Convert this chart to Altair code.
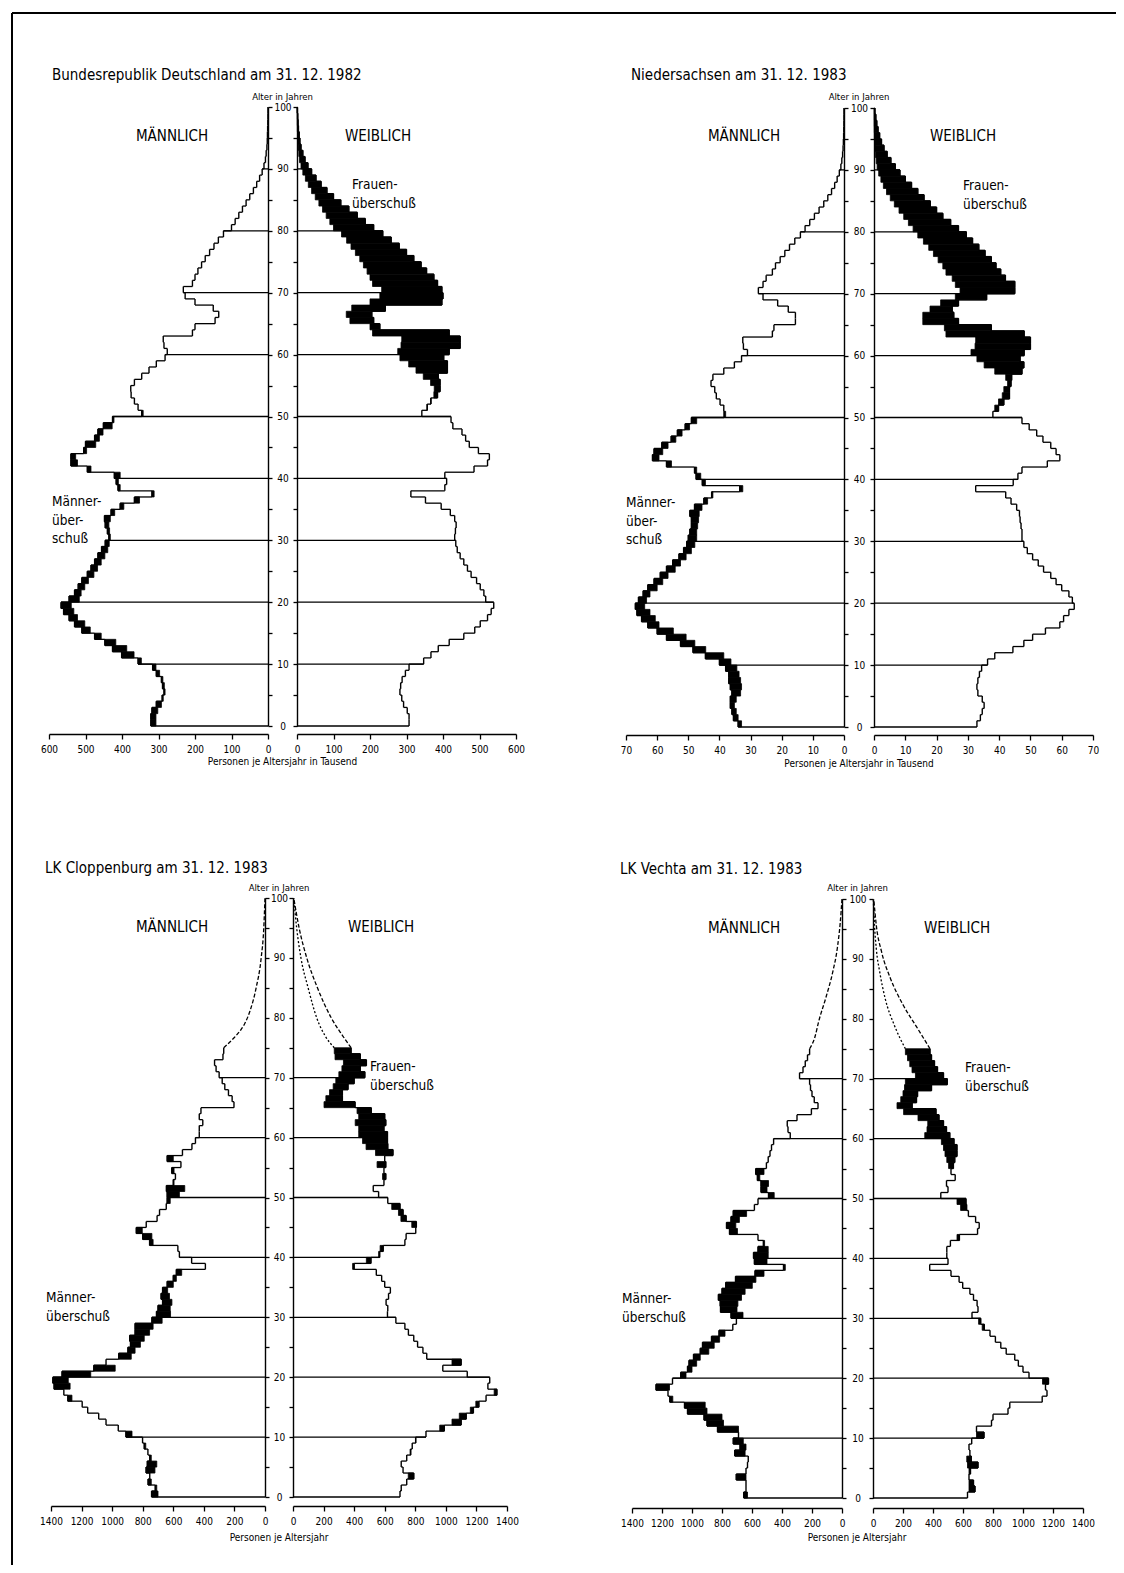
import altair as alt
import pandas as pd

FONT = "DejaVu Sans Condensed, DejaVu Sans, sans-serif"
W, H = 1108, 1557

# ---------------- data ----------------
brd_m = [321, 321, 318, 306, 290, 285, 289, 292, 306, 316,
         356, 401, 426, 447, 475, 510, 530, 545, 560, 567,
         545, 530, 520, 510, 495, 485, 475, 466, 456, 446,
         436, 440, 446, 448, 430, 405, 366, 318, 411, 416,
         421, 495, 540, 540, 505, 500, 475, 466, 451, 426,
         346, 356, 366, 375, 376, 366, 346, 326, 306, 282,
         276, 285, 287, 207, 200, 145, 135, 150, 200, 227,
         232, 207, 200, 192, 182, 172, 160, 148, 136, 122,
         100, 90, 80, 70, 60, 50, 40, 31, 23, 16,
         11, 7, 5, 3, 2, 1.5, 1, 0.6, 0.3, 0.2]
brd_f = [307, 307, 302, 292, 287, 282, 284, 288, 297, 307,
         347, 367, 387, 417, 457, 487, 502, 522, 532, 539,
         517, 512, 502, 492, 477, 467, 457, 447, 439, 435,
         432, 434, 436, 432, 420, 395, 352, 312, 405, 410,
         405, 485, 522, 527, 497, 472, 462, 452, 427, 422,
         342, 357, 367, 385, 392, 392, 387, 412, 412, 402,
         417, 447, 447, 417, 227, 210, 205, 242, 397, 400,
         397, 385, 375, 355, 340, 320, 300, 280, 258, 235,
         210, 187, 165, 142, 120, 100, 82, 66, 52, 40,
         30, 22, 16, 11, 8, 6, 4, 3, 2, 1]

nds_m = [34, 35.5, 36, 36.5, 36.5, 36, 36.5, 37, 37, 38,
         40, 44.5, 48.5, 52.5, 57, 60, 63, 65, 66.5, 67,
         66, 64.5, 63, 61, 59, 57, 55, 53, 51.5, 50.5,
         50, 49.5, 49, 49, 49.5, 48, 45, 42.5, 33.5, 45.5,
         47.5, 48, 57, 61.5, 61, 58.5, 55.5, 53.5, 51, 49,
         38.5, 38.6, 39.8, 41, 41.5, 42.7, 42.1, 38.6, 35.2, 32.9,
         31, 32.3, 32.5, 23, 22.5, 15.6, 15.6, 17.9, 21.3, 26,
         27.5, 26, 25, 23, 22, 20.5, 19, 17.5, 15.8, 14,
         12.5, 11, 9.5, 8, 6.5, 5.2, 4, 3, 2.2, 1.5,
         1, 0.7, 0.45, 0.3, 0.2, 0.12, 0.08, 0.05, 0.03, 0.02]
nds_f = [32.9, 34, 34.6, 35.2, 34.6, 33.2, 32.9, 33.2, 33.7, 34.4,
         36.3, 38.6, 44.4, 47.9, 50.7, 54.8, 59.4, 60.6, 62.3, 64,
         63.4, 62.3, 60, 58.2, 56.5, 54.2, 52.5, 50.7, 49, 47.9,
         47.3, 47.3, 47, 46.7, 46.5, 45.6, 43.8, 42.1, 32.5, 44.5,
         46, 47.3, 55.4, 59.4, 58.2, 56.5, 54, 52, 49.6, 47.3,
         38, 39.8, 41.5, 43.3, 43.3, 43.8, 44, 47.3, 47.9, 46.7,
         48, 50, 50, 48, 37.5, 27, 25.5, 25, 27, 36,
         45, 45, 42, 40.5, 39, 37.5, 35.5, 33.5, 31.5, 29.5,
         27, 24.5, 22, 20, 18, 16, 14, 12, 10, 8.3,
         6.8, 5.4, 4.2, 3.2, 2.4, 1.8, 1.3, 0.9, 0.6, 0.3]

clp_m = [742, 718, 765, 754, 778, 770, 754, 766, 790, 801,
         910, 960, 1040, 1088, 1160, 1196, 1290, 1316, 1380, 1388,
         1328, 1120, 1040, 957, 897, 880, 885, 850, 850, 740,
         710, 700, 670, 680, 670, 640, 600, 580, 390, 480,
         560, 570, 755, 800, 842, 777, 706, 690, 646, 640,
         640, 645, 600, 586, 610, 550, 640, 540, 478, 455,
         430, 430, 407, 430, 419, 203, 215, 239, 263, 280,
         300, 320, 330, 275, 270]
clp_f = [700, 708, 744, 790, 720, 708, 744, 770, 780, 803,
         870, 990, 1100, 1133, 1180, 1216, 1263, 1334, 1275, 1287,
         1140, 980, 1100, 875, 850, 815, 790, 755, 732, 673,
         618, 620, 609, 625, 637, 600, 580, 545, 400, 510,
         567, 590, 732, 740, 803, 807, 740, 720, 700, 620,
         560, 525, 595, 607, 595, 607, 600, 654, 620, 618,
         618, 595, 607, 600, 512, 406, 323, 323, 360, 400,
         470, 440, 480, 440, 380]
clp_tail_m_age = [75, 76, 77, 78, 79, 81, 85, 90, 95, 100]
clp_tail_m = [270, 228, 190, 158, 133, 100, 58, 25, 8, 0]
clp_tail_f_age = [75, 77, 80, 85, 90, 95, 100]
clp_tail_f = [380, 325, 250, 160, 90, 40, 5]
clp_tail_fi_age = [75, 77, 80, 85, 90, 95, 100]
clp_tail_fi = [270, 210, 155, 99, 52, 24, 5]

vec_m = [655, 640, 640, 705, 640, 630, 625, 715, 680, 725,
         690, 830, 900, 920, 1030, 1050, 1148, 1160, 1240, 1130,
         1075, 1030, 1020, 990, 945, 930, 870, 820, 728, 704,
         740, 810, 812, 824, 800, 775, 710, 580, 390, 584,
         590, 560, 524, 560, 750, 770, 740, 725, 584, 560,
         490, 540, 540, 564, 575, 504, 492, 480, 470, 456,
         345, 360, 365, 300, 204, 160, 185, 200, 210, 216,
         283, 260, 245, 230, 216]
vec_f = [630, 680, 670, 640, 650, 700, 655, 646, 640, 658,
         740, 690, 790, 800, 900, 912, 1128, 1160, 1150, 1170,
         1040, 1000, 969, 945, 888, 852, 816, 780, 742, 718,
         660, 700, 694, 670, 646, 598, 574, 520, 378, 500,
         492, 492, 516, 576, 697, 708, 684, 636, 624, 620,
         452, 500, 490, 548, 520, 536, 545, 560, 560, 540,
         512, 490, 470, 440, 420, 261, 290, 297, 390, 495,
         470, 430, 410, 390, 380]
vec_tail_m_age = [75, 77, 79.5, 83.5, 88, 92, 96, 100]
vec_tail_m = [216, 180, 156, 108, 60, 30, 12, 0]
vec_tail_f_age = [75, 78.4, 82.3, 86.7, 91.2, 95.6, 100]
vec_tail_f = [380, 297, 201, 117, 57, 22, 5]
vec_tail_fi_age = [75, 79, 83.4, 87.8, 91.7, 95.6, 100]
vec_tail_fi = [216, 141, 81, 45, 22, 10, 2]

ticks_brd = [0, 100, 200, 300, 400, 500, 600]
ticks_nds = [0, 10, 20, 30, 40, 50, 60, 70]
ticks_lk = [0, 200, 400, 600, 800, 1000, 1200, 1400]
age_ticks = list(range(0, 101, 5))

# ---------------- layout (page pixel positions) ----------------
PANELS = [
    dict(m=brd_m, f=brd_f, xmax=600, ticks=ticks_brd,
         xm=(268, 49), xf=(297, 516), y0=726, y100=107, axis_y=734,
         title="Bundesrepublik Deutschland am 31. 12. 1982", title_xy=(52, 75),
         alter_xy=(282.5, 97), mann_xy=(172, 136), weib_xy=(378, 136),
         frauen_xy=(352, 185), maenner_xy=(52, 502), maenner_lines=["Männer-", "über-", "schuß"],
         axt="Personen je Altersjahr in Tausend", axt_xy=(282.5, 762)),
    dict(m=nds_m, f=nds_f, xmax=70, ticks=ticks_nds,
         xm=(844, 626), xf=(874, 1093), y0=727, y100=108, axis_y=735,
         title="Niedersachsen am 31. 12. 1983", title_xy=(631, 75),
         alter_xy=(859, 97), mann_xy=(744, 136), weib_xy=(963, 136),
         frauen_xy=(963, 186), maenner_xy=(626, 503), maenner_lines=["Männer-", "über-", "schuß"],
         axt="Personen je Altersjahr in Tausend", axt_xy=(859, 764)),
    dict(m=clp_m, f=clp_f, xmax=1400, ticks=ticks_lk,
         xm=(265, 51), xf=(293, 507), y0=1497, y100=898, axis_y=1506,
         tails=[("m", clp_tail_m_age, clp_tail_m, [4, 2]),
                ("f", clp_tail_f_age, clp_tail_f, [4, 2]),
                ("f", clp_tail_fi_age, clp_tail_fi, [2, 2])],
         title="LK Cloppenburg am 31. 12. 1983", title_xy=(45, 868),
         alter_xy=(279, 888), mann_xy=(172, 927), weib_xy=(381, 927),
         frauen_xy=(370, 1067), maenner_xy=(46, 1298), maenner_lines=["Männer-", "überschuß"],
         axt="Personen je Altersjahr", axt_xy=(279, 1538)),
    dict(m=vec_m, f=vec_f, xmax=1400, ticks=ticks_lk,
         xm=(842, 632), xf=(873, 1083), y0=1498, y100=899, axis_y=1508,
         tails=[("m", vec_tail_m_age, vec_tail_m, [4, 2]),
                ("f", vec_tail_f_age, vec_tail_f, [4, 2]),
                ("f", vec_tail_fi_age, vec_tail_fi, [2, 2])],
         title="LK Vechta am 31. 12. 1983", title_xy=(620, 869),
         alter_xy=(857.5, 888), mann_xy=(744, 928), weib_xy=(957, 928),
         frauen_xy=(965, 1068), maenner_xy=(622, 1299), maenner_lines=["Männer-", "überschuß"],
         axt="Personen je Altersjahr", axt_xy=(857, 1538)),
]


def P(v):
    return v - 8


ONE = pd.DataFrame({"k": [0]})


def txt(s, xy, size, align="left"):
    return alt.Chart(ONE).mark_text(
        text=s, font=FONT, fontSize=size, align=align, baseline="middle", color="black"
    ).encode(x=alt.value(P(xy[0])), y=alt.value(P(xy[1])))


layers = []

# frame (top and left edge only, as in the scan)
layers.append(alt.Chart(ONE).mark_rule(color="black", strokeWidth=2).encode(
    x=alt.value(P(12)), x2=alt.value(W), y=alt.value(P(13))))
layers.append(alt.Chart(ONE).mark_rule(color="black", strokeWidth=2).encode(
    x=alt.value(P(12)), y=alt.value(P(13)), y2=alt.value(H)))

for p in PANELS:
    ys = alt.Scale(domain=[0, 100], range=[P(p["y0"]), P(p["y100"])], nice=False, zero=False)
    gap = p["xf"][0] - p["xm"][0]
    for side in ("m", "f"):
        own = p[side]
        other = p["f"] if side == "m" else p["m"]
        n = len(own)
        x0, x1 = p["xm"] if side == "m" else p["xf"]
        xs = alt.Scale(domain=[0, p["xmax"]], range=[P(x0), P(x1)], nice=False, zero=False)
        ages = list(range(n))
        vert = pd.DataFrame({"a": ages, "a1": [a + 1 for a in ages], "v": own})
        hor_rows = [{"a": a, "x1": (own[a - 1] if a > 0 else 0), "x2": own[a]} for a in ages]
        for d in range(10, 100, 10):
            if d < n:
                hor_rows.append({"a": d, "x1": 0, "x2": max(own[d - 1], own[d])})
        hor = pd.DataFrame(hor_rows)
        exc = pd.DataFrame([{"a": a, "a1": a + 1, "lo": other[a], "hi": own[a]}
                            for a in ages if own[a] > other[a]])

        xaxis = alt.Axis(orient="bottom", offset=P(p["axis_y"]) - H, values=p["ticks"], format="d",
                         tickSize=5, labelPadding=5, labelFont=FONT, labelFontSize=10,
                         labelColor="black", domainColor="black", tickColor="black",
                         domainWidth=1.3, tickWidth=1.3, grid=False, title=None,
                         labelFlush=False, labelOverlap=False, labelBound=False)
        if side == "m":
            yaxis = alt.Axis(orient="right", offset=P(x0) - W, values=age_ticks,
                             labelExpr="datum.value % 10 == 0 ? datum.label : ''",
                             tickSize=4, labelAlign="center", labelBaseline="middle",
                             labelPadding=gap / 2 - 4, labelFont=FONT, labelFontSize=10,
                             labelColor="black", domainColor="black", tickColor="black",
                             domainWidth=1.4, tickWidth=1.3, grid=False, title=None,
                             labelOverlap=False, labelFlush=False, labelBound=False)
        else:
            yaxis = alt.Axis(orient="left", offset=-P(x0), values=age_ticks, labels=False,
                             tickSize=4, domainColor="black", tickColor="black",
                             domainWidth=1.4, tickWidth=1.3, grid=False, title=None)

        layers.append(alt.Chart(exc).mark_rect(color="black", stroke="black", strokeWidth=0.8).encode(
            x=alt.X("lo:Q", scale=xs, axis=None), x2="hi:Q",
            y=alt.Y("a:Q", scale=ys, axis=None), y2="a1:Q"))
        layers.append(alt.Chart(vert).mark_rule(color="black", strokeWidth=1.4).encode(
            x=alt.X("v:Q", scale=xs, axis=xaxis),
            y=alt.Y("a:Q", scale=ys, axis=yaxis), y2="a1:Q"))
        layers.append(alt.Chart(hor).mark_rule(color="black", strokeWidth=1.3).encode(
            x=alt.X("x1:Q", scale=xs, axis=None), x2="x2:Q",
            y=alt.Y("a:Q", scale=ys, axis=None)))

        for (ts, tage, tval, dash) in p.get("tails", []):
            if ts != side:
                continue
            tdf = pd.DataFrame({"a": tage, "v": tval})
            layers.append(alt.Chart(tdf).mark_line(
                color="black", strokeWidth=1.3, strokeDash=dash, interpolate="monotone").encode(
                x=alt.X("v:Q", scale=xs, axis=None),
                y=alt.Y("a:Q", scale=ys, axis=None), order="a:Q"))

    # texts
    layers.append(txt(p["title"], p["title_xy"], 15))
    layers.append(txt("Alter in Jahren", p["alter_xy"], 9.5, "center"))
    layers.append(txt("MÄNNLICH", p["mann_xy"], 15, "center"))
    layers.append(txt("WEIBLICH", p["weib_xy"], 15, "center"))
    fx, fy = p["frauen_xy"]
    layers.append(txt("Frauen-", (fx, fy), 13.5))
    layers.append(txt("überschuß", (fx, fy + 19), 13.5))
    mx, my = p["maenner_xy"]
    for i, line in enumerate(p["maenner_lines"]):
        layers.append(txt(line, (mx, my + 18.5 * i), 13.5))
    layers.append(txt(p["axt"], p["axt_xy"], 10, "center"))

chart = alt.layer(*layers).resolve_scale(x="independent", y="independent").properties(
    width=W, height=H, padding=0, background="white",
    autosize=alt.AutoSizeParams(type="none"),
).configure_view(stroke=None)

chart.save("out.html", embed_options={"renderer": "svg", "actions": False})
